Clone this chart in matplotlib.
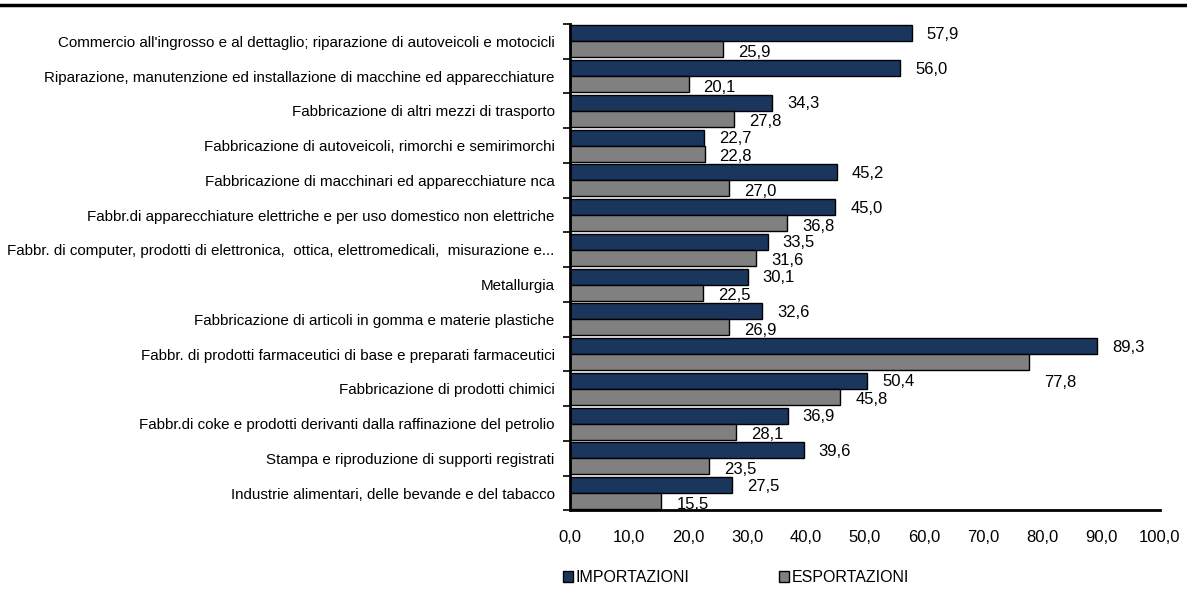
import matplotlib
matplotlib.use("Agg")
import matplotlib.pyplot as plt
from matplotlib import font_manager
from matplotlib.patches import Patch
import numpy as np

categories = [
    "Commercio all'ingrosso e al dettaglio; riparazione di autoveicoli e motocicli",
    "Riparazione, manutenzione ed installazione di macchine ed apparecchiature",
    "Fabbricazione di altri mezzi di trasporto",
    "Fabbricazione di autoveicoli, rimorchi e semirimorchi",
    "Fabbricazione di macchinari ed apparecchiature nca",
    "Fabbr.di apparecchiature elettriche e per uso domestico non elettriche",
    "Fabbr. di computer, prodotti di elettronica,  ottica, elettromedicali,  misurazione e...",
    "Metallurgia",
    "Fabbricazione di articoli in gomma e materie plastiche",
    "Fabbr. di prodotti farmaceutici di base e preparati farmaceutici",
    "Fabbricazione di prodotti chimici",
    "Fabbr.di coke e prodotti derivanti dalla raffinazione del petrolio",
    "Stampa e riproduzione di supporti registrati",
    "Industrie alimentari, delle bevande e del tabacco",
]
importazioni = [57.9, 56.0, 34.3, 22.7, 45.2, 45.0, 33.5, 30.1, 32.6, 89.3, 50.4, 36.9, 39.6, 27.5]
esportazioni = [25.9, 20.1, 27.8, 22.8, 27.0, 36.8, 31.6, 22.5, 26.9, 77.8, 45.8, 28.1, 23.5, 15.5]
xticks = [0, 10, 20, 30, 40, 50, 60, 70, 80, 90, 100]
series_names = ["IMPORTAZIONI", "ESPORTAZIONI"]

names = {f.name for f in font_manager.fontManager.ttflist}
fam = "Liberation Sans Narrow" if "Liberation Sans Narrow" in names else "Liberation Sans"
plt.rcParams["font.family"] = [fam, "DejaVu Sans"]

NAVY = "#1b365d"
GRAY = "#808080"

fig = plt.figure(figsize=(11.87, 5.97), dpi=100)
ax = fig.add_axes([0.4802, 0.145, 0.4970, 0.815])

n = len(categories)
y = np.arange(n)
h = 0.46
ax.barh(y - h / 2, importazioni, height=h, color=NAVY, edgecolor="black", linewidth=1.0)
ax.barh(y + h / 2, esportazioni, height=h, color=GRAY, edgecolor="black", linewidth=1.0)

ax.set_ylim(n - 0.5, -0.5)
ax.set_xlim(0, 100)

def fmt(v):
    return f"{v:.1f}".replace(".", ",")

for i in range(n):
    ax.annotate(fmt(importazioni[i]), (importazioni[i], y[i] - h / 2),
                xytext=(15, -1), textcoords="offset pixels",
                ha="left", va="center", fontsize=12)
    dy = -3
    if esportazioni[i] > 70:
        dy = -20
    ax.annotate(fmt(esportazioni[i]), (esportazioni[i], y[i] + h / 2),
                xytext=(15, dy), textcoords="offset pixels",
                ha="left", va="center", fontsize=12)

ax.set_yticks(np.arange(n + 1) - 0.5, minor=False)
ax.set_yticklabels([])
ax.set_yticks(y, minor=True)
ax.set_yticklabels(categories, minor=True, fontsize=10.9)
ax.tick_params(axis="y", which="minor", length=0, pad=11)
ax.tick_params(axis="y", which="major", length=5, width=1.2, direction="out")

ax.set_xticks(xticks)
ax.set_xticklabels([fmt(v) for v in xticks], fontsize=12)
ax.tick_params(axis="x", length=0, pad=14)

for s in ["top", "right"]:
    ax.spines[s].set_visible(False)
ax.spines["left"].set_linewidth(2)
ax.spines["bottom"].set_linewidth(2)

handles = [Patch(facecolor=NAVY, edgecolor="black", linewidth=1),
           Patch(facecolor=GRAY, edgecolor="black", linewidth=1)]
fig.legend(handles, series_names, loc="center left", bbox_to_anchor=(0.462, 0.032),
           ncol=2, frameon=False, fontsize=11.5, handlelength=0.65, handleheight=0.65,
           handletextpad=0.15, columnspacing=5.6)

fig.add_artist(plt.Line2D([0, 1], [0.992, 0.992], color="black", linewidth=2.5,
                          transform=fig.transFigure))

fig.savefig("out.png", dpi=100)
